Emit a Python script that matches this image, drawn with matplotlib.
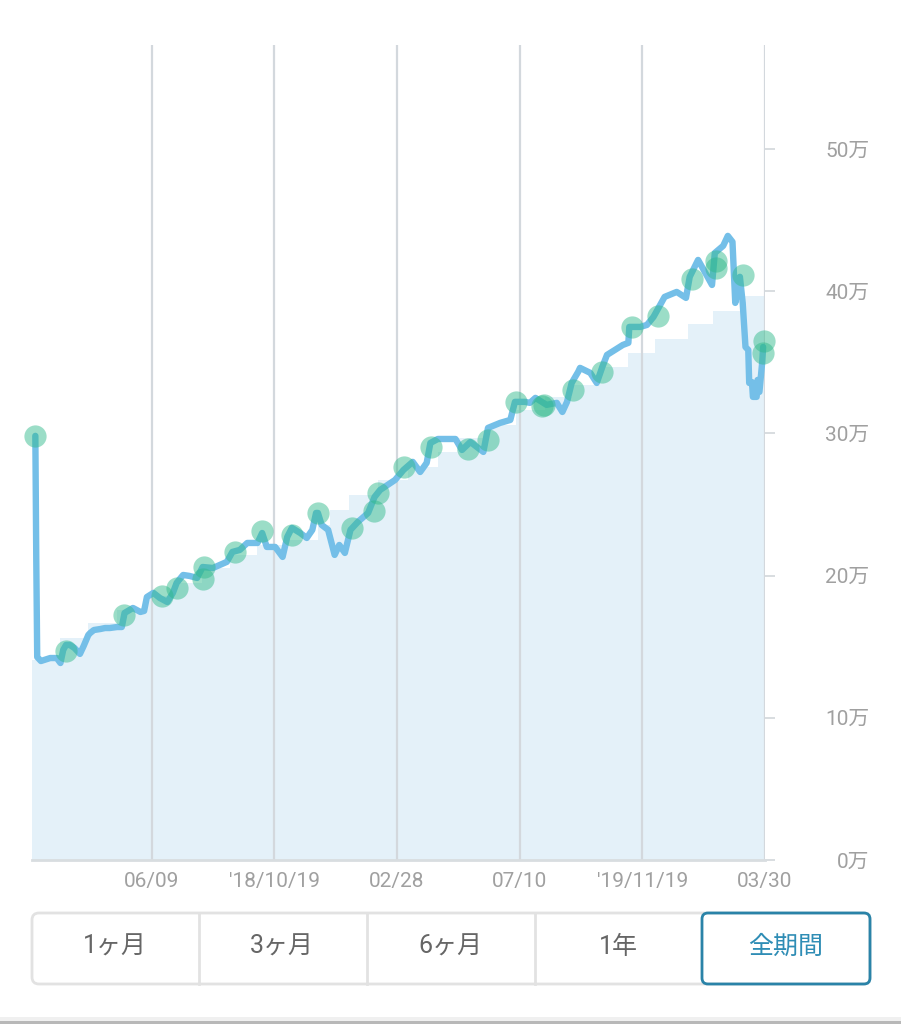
import matplotlib
matplotlib.use("Agg")
import matplotlib.pyplot as plt
from matplotlib.patches import FancyBboxPatch, Rectangle

plt.rcParams['font.family'] = ['Roboto', 'Noto Sans CJK JP', 'DejaVu Sans']

# Days relative to 2018/06/09, values in 万円
line_days = [-125,-124,-123,-119,-109,-102,-98,-95,-92,-88,-83,-79,-77,-73,-68,-66,-62,-55,-50,-45,-37,-32,-29,-20,-12,-8,-5,2,9,17,23,27,34,41,49,55,66,81,87,95,103,114,119,124,133,141,146,151,160,167,173,177,179,183,190,197,202,208,214,222,233,240,246,262,271,281,289,296,300,308,327,334,343,357,362,375,386,391,402,407,413,425,436,442,447,452,459,461,472,479,485,490,507,513,514,526,533,540,552,565,575,579,588,597,603,606,615,620,625,628,633,636,639,642,643,646,647,651,652,653,654,657,658]
line_vals = [29.82,21.1,14.27,13.99,14.2,14.2,13.85,14.77,15.12,15.12,14.91,14.63,14.49,15.05,15.82,15.96,16.17,16.24,16.31,16.31,16.38,16.38,17.37,17.72,17.44,17.51,18.49,18.78,18.42,18.14,18.78,19.48,20.04,19.97,19.83,20.6,20.53,20.96,21.66,21.8,22.29,22.29,22.99,22.01,22.01,21.31,22.71,23.35,22.99,22.64,23.21,24.4,24.4,23.56,23.21,21.45,22.15,21.59,23.21,23.77,24.4,25.53,26.02,26.72,27.42,27.99,27.28,27.92,29.32,29.6,29.6,28.83,29.39,28.69,30.38,30.73,30.94,32.21,32.21,32.14,32.49,32.0,32.14,31.5,32.21,33.54,34.32,34.6,34.25,33.54,34.67,35.51,36.21,36.36,37.48,37.48,37.62,38.18,39.59,39.94,39.52,41.0,42.19,41.14,40.43,42.68,43.18,43.88,43.46,39.17,41.0,39.17,36.07,35.86,33.54,33.6,32.56,32.56,33.75,33.0,32.91,35.0,36.07]

asset_days = [-129,-98,-68,-37,-7,23,54,84,114,146,179,192,212,244,276,308,329,361,392,423,452,483,513,542,577,604,639,660]
asset_vals = [14.06,15.61,16.67,17.58,18.56,19.48,20.53,21.45,22.15,22.5,23.56,24.61,25.67,26.72,27.64,28.69,29.67,30.59,31.64,32.56,33.4,34.67,35.65,36.64,37.69,38.6,39.66,39.66]

event_days = [-125,-92,-30,11,27,55,56,90,119,151,179,216,239,244,272,301,341,362,392,420,422,453,485,517,545,581,607,607,636,658,659]
event_vals = [29.82,14.7,17.23,18.56,19.13,19.76,20.6,21.66,23.14,22.85,24.4,23.35,24.54,25.81,27.64,29.04,28.9,29.53,32.21,31.93,32.0,33.05,34.32,37.48,38.25,40.86,42.12,41.63,41.14,35.65,36.5]

x_ticks = [0,132,264,396,528,660]
x_labels = ['06/09',"'18/10/19",'02/28','07/10',"'19/11/19",'03/30']
y_ticks = [0,10,20,30,40,50]
y_labels = ['0万','10万','20万','30万','40万','50万']
buttons = ['1ヶ月','3ヶ月','6ヶ月','1年','全期間']

W, H = 901, 1024
fig = plt.figure(figsize=(W/100, H/100), dpi=100, facecolor='white')

# pixel overlay for the page furniture
ui = fig.add_axes([0,0,1,1], zorder=0)
ui.set_xlim(0,W); ui.set_ylim(H,0); ui.axis('off')

ax = fig.add_axes([32/W, 1-860/H, (765-32)/W, (860-45)/H], zorder=1)
ax.patch.set_alpha(0)
ax.set_xlim(-128.6, 660)
ax.set_ylim(0, 57.3)

ax.fill_between(asset_days, asset_vals, 0, step='post', color='#e4f1f9', lw=0, zorder=1)
ax.vlines(x_ticks, 0, 57.3, color='#d3d8dd', lw=1.6, zorder=2)
ax.plot(line_days, line_vals, color='#74bfe8', lw=4.6, solid_joinstyle='round',
        solid_capstyle='round', clip_on=False, zorder=3)
ax.plot(event_days, event_vals, ls='none', marker='o', ms=16, mew=0,
        color='#2fb98a', alpha=0.48, clip_on=False, zorder=4)

for s in ['top','left','right']:
    ax.spines[s].set_visible(False)
ax.spines['bottom'].set_color('#d8dde0')
ax.spines['bottom'].set_linewidth(2)

ax.set_xticks(x_ticks, x_labels)
ax.tick_params(axis='x', length=0, pad=9, labelsize=15, labelcolor='#a0a0a0')
ax.yaxis.tick_right()
ax.set_yticks(y_ticks, y_labels)
ax.tick_params(axis='y', length=7.2, width=1.4, color='#d8dde0', pad=68,
               labelsize=15, labelcolor='#a0a0a0')
for t in ax.get_yticklabels():
    t.set_ha('right')

# range selector
ui.add_patch(FancyBboxPatch((32,913), 838, 71, boxstyle='round,pad=0,rounding_size=7',
                            fc='white', ec='#e2e2e2', lw=2))
for px in [198.5, 366.5, 534.5]:
    ui.plot([px,px],[913,984], color='#e2e2e2', lw=2)
centers = [115, 282, 450, 618, 786]
for c, b in zip(centers, buttons):
    ui.text(c, 947, b, ha='center', va='center', fontsize=18,
            color='#2f8db5' if b == '全期間' else '#666666')
ui.add_patch(FancyBboxPatch((702,913), 168, 71, boxstyle='round,pad=0,rounding_size=6',
                            fc='none', ec='#2a83a8', lw=2))

# bottom edge of the screen
ui.add_patch(Rectangle((0,1021), W, 3, fc='#b8b8b8', ec='none'))
ui.add_patch(Rectangle((0,1017), W, 4, fc='#f0f0f0', ec='none'))

fig.savefig('out.png', dpi=100)
